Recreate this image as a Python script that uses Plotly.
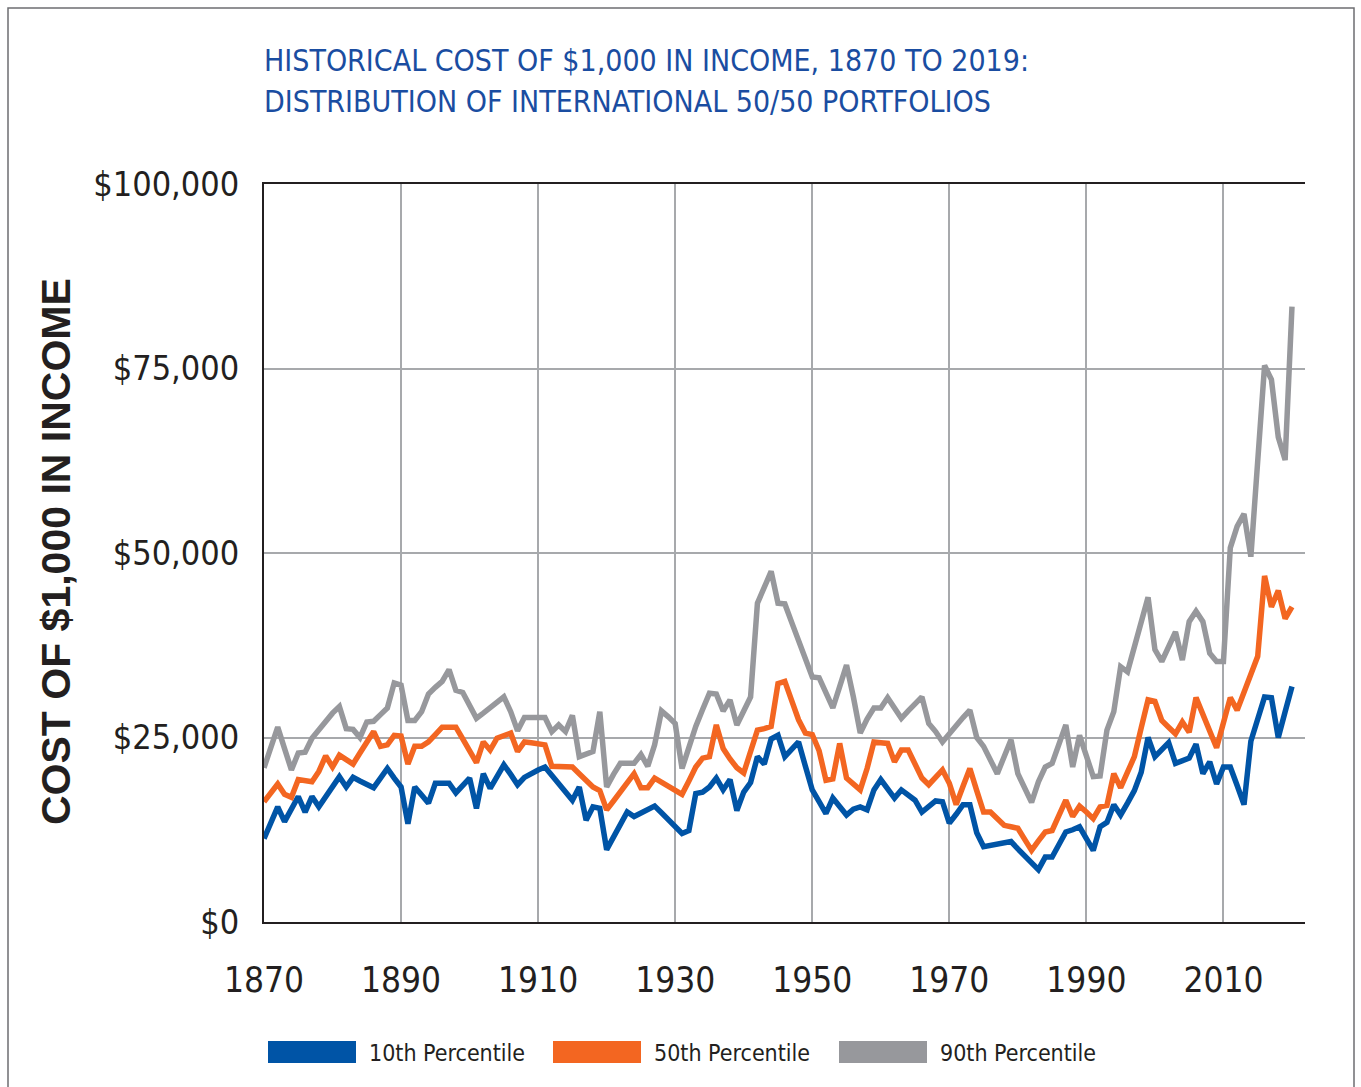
import plotly.graph_objects as go

# ---------------- data ----------------
years = list(range(1870, 2021))

p10 = [11.3, 13.5, 15.6, 13.6, 15.3, 17.0, 14.9, 17.0, 15.6, 17.0,
       18.4, 19.7, 18.3, 19.6, 19.1, 18.6, 18.2, 19.5, 20.8, 19.5,
       18.3, 13.3, 18.3, 17.2, 16.1, 18.8, 18.8, 18.8, 17.5, 18.5,
       19.5, 15.4, 20.1, 18.1, 19.7, 21.3, 20.0, 18.6, 19.6, 20.2,
       20.6, 21.0, 19.9, 18.8, 17.6, 16.5, 18.3, 13.8, 15.6, 15.4,
       9.8, 11.5, 13.2, 14.9, 14.3, 14.8, 15.2, 15.7, 14.8, 13.8,
       12.9, 12.0, 12.4, 17.4, 17.6, 18.3, 19.5, 17.9, 19.3, 15.1,
       17.6, 18.9, 22.4, 21.4, 24.8, 25.3, 22.4, 23.4, 24.4, 21.1,
       17.9, 16.3, 14.7, 16.8, 15.6, 14.5, 15.3, 15.6, 15.2, 17.9,
       19.3, 18.0, 16.8, 17.9, 17.2, 16.5, 14.9, 15.6, 16.4, 16.3,
       13.4, 14.6, 15.9, 15.9, 12.1, 10.2, 10.4, 10.6, 10.8, 10.9,
       9.9, 9.0, 8.0, 7.1, 8.8, 8.8, 10.5, 12.2, 12.5, 12.9,
       11.3, 9.7, 12.9, 13.5, 15.9, 14.5, 16.1, 17.8, 20.3, 25.0,
       22.4, 23.4, 24.3, 21.5, 21.9, 22.2, 24.1, 20.1, 21.7, 18.7,
       21.0, 21.0, 18.5, 15.9, 24.5, 27.5, 30.5, 30.4, 25.0, 28.5,
       31.9]

p50 = [16.3, 17.5, 18.7, 17.3, 16.9, 19.3, 19.1, 19.0, 20.4, 22.5,
       21.0, 22.6, 22.0, 21.4, 22.9, 24.4, 25.8, 23.8, 24.0, 25.3,
       25.2, 21.4, 23.8, 23.8, 24.4, 25.4, 26.4, 26.4, 26.4, 24.8,
       23.2, 21.6, 24.4, 23.3, 24.9, 25.2, 25.6, 23.1, 24.4, 24.3,
       24.2, 24.0, 21.1, 21.1, 21.0, 21.0, 20.1, 19.2, 18.3, 17.8,
       15.2, 16.4, 17.6, 18.6, 20.1, 18.2, 18.2, 19.5, 18.9, 18.4,
       17.8, 17.3, 19.1, 21.0, 22.2, 22.4, 26.7, 23.5, 22.1, 20.9,
       20.2, 22.9, 26.0, 26.2, 26.5, 32.3, 32.6, 30.0, 27.4, 25.6,
       25.4, 23.2, 19.2, 19.4, 24.2, 19.5, 18.7, 17.9, 20.8, 24.4,
       24.3, 24.2, 21.7, 23.3, 23.3, 21.4, 19.5, 18.6, 19.6, 20.6,
       18.8, 15.9, 18.4, 20.8, 17.8, 14.9, 14.9, 14.0, 13.1, 12.9,
       12.7, 11.2, 9.7, 11.0, 12.2, 12.4, 14.5, 16.5, 14.3, 15.7,
       14.9, 14.0, 15.6, 15.8, 20.1, 18.2, 20.3, 22.4, 26.3, 30.1,
       29.9, 27.3, 26.4, 25.5, 27.1, 25.7, 30.4, 28.1, 25.9, 23.6,
       27.0, 30.4, 28.7, 31.1, 33.5, 36.0, 46.9, 42.7, 44.9, 41.1,
       42.7]

p90 = [20.9, 23.6, 26.4, 23.5, 20.6, 22.9, 23.0, 24.9, 26.1, 27.4,
       28.3, 29.2, 26.2, 26.1, 25.0, 27.1, 27.2, 28.1, 29.0, 32.4,
       32.1, 27.3, 27.3, 28.5, 30.9, 31.8, 32.6, 34.2, 31.4, 31.1,
       29.4, 27.6, 28.3, 29.0, 29.8, 30.5, 28.5, 25.9, 27.7, 27.7,
       27.7, 27.7, 25.8, 26.7, 25.8, 28.0, 22.4, 22.7, 23.1, 28.5,
       18.3, 20.0, 21.5, 21.5, 21.5, 22.7, 21.1, 24.0, 28.6, 27.8,
       26.9, 20.8, 23.7, 26.5, 28.8, 31.0, 30.9, 28.6, 30.1, 26.7,
       28.6, 30.5, 43.2, 45.4, 47.5, 43.2, 43.1, 40.6, 38.2, 35.7,
       33.2, 33.1, 31.0, 29.0, 31.9, 34.8, 30.5, 25.6, 27.5, 29.0,
       29.0, 30.4, 29.0, 27.6, 28.6, 29.6, 30.5, 26.9, 25.8, 24.4,
       25.6, 26.7, 27.7, 28.7, 25.0, 23.8, 22.0, 20.1, 22.4, 24.7,
       20.1, 18.0, 16.2, 19.0, 21.0, 21.5, 24.0, 26.7, 21.0, 25.3,
       22.5, 19.7, 19.8, 26.0, 28.5, 34.6, 33.9, 37.3, 40.7, 44.0,
       36.9, 35.3, 37.3, 39.3, 35.5, 40.7, 42.1, 40.7, 36.4, 35.3,
       35.3, 50.7, 53.6, 55.3, 49.5, 62.5, 75.4, 73.5, 65.7, 62.6,
       83.4]

series_names = ["10th Percentile", "50th Percentile", "90th Percentile"]
series_values = [p10, p50, p90]  # in thousands of dollars
series_colors = ["#0054a6", "#f36621", "#97989c"]

y_tick_values = [0, 25000, 50000, 75000, 100000]
y_tick_labels = ["$0", "$25,000", "$50,000", "$75,000", "$100,000"]
x_tick_values = [1870, 1890, 1910, 1930, 1950, 1970, 1990, 2010]

title_lines = ["HISTORICAL COST OF $1,000 IN INCOME, 1870 TO 2019:",
               "DISTRIBUTION OF INTERNATIONAL 50/50 PORTFOLIOS"]
y_title = "COST OF $1,000 IN INCOME"

# ---------------- layout helpers ----------------
W, H = 1361, 1087
L, R, T, B = 264, 1305, 184, 922
NARROW = "Liberation Sans Narrow, DejaVu Sans Condensed, sans-serif"


def px_x(px):
    return (px - L) / (R - L)


def px_y(py):
    return (B - py) / (B - T)


fig = go.Figure()
for name, vals, col in zip(series_names, series_values, series_colors):
    fig.add_trace(go.Scatter(
        x=years, y=[v * 1000 for v in vals], mode="lines", name=name,
        line=dict(color=col, width=5.5), showlegend=False,
        hovertemplate="%{x}: $%{y:,.0f}<extra>" + name + "</extra>"))

shapes = [
    # outer frame
    dict(type="rect", xref="paper", yref="paper",
         x0=px_x(8), x1=px_x(1354), y0=px_y(1095), y1=px_y(8),
         line=dict(color="#6d6e71", width=1.5), layer="below"),
]
annotations = []

# title
for i, line in enumerate(title_lines):
    annotations.append(dict(
        text=line, xref="paper", yref="paper", x=px_x(262), y=px_y(61 + 40 * i),
        xanchor="left", yanchor="middle", showarrow=False,
        font=dict(family=NARROW, size=30, color="#1a4da1")))

# y-axis title
annotations.append(dict(
    text=y_title, xref="paper", yref="paper", x=px_x(56), y=px_y(552),
    xanchor="center", yanchor="middle", textangle=-90, showarrow=False,
    font=dict(family="Liberation Sans, Arial, sans-serif", size=41,
              color="#231f20", weight="bold")))

# custom legend
legend_x = [268, 553, 839]
for name, col, lx in zip(series_names, series_colors, legend_x):
    shapes.append(dict(type="rect", xref="paper", yref="paper",
                       x0=px_x(lx), x1=px_x(lx + 88), y0=px_y(1063), y1=px_y(1041),
                       fillcolor=col, line=dict(width=0)))
    annotations.append(dict(
        text=name, xref="paper", yref="paper", x=px_x(lx + 99), y=px_y(1053),
        xanchor="left", yanchor="middle", showarrow=False,
        font=dict(family=NARROW, size=23, color="#231f20")))

fig.update_layout(
    width=W, height=H,
    margin=dict(l=L, r=W - R, t=T, b=H - B, pad=0),
    paper_bgcolor="white", plot_bgcolor="white",
    shapes=shapes, annotations=annotations,
    showlegend=False,
    xaxis=dict(range=[1870, 2021.9], tickvals=x_tick_values,
               showgrid=True, gridcolor="#a7a9ac", gridwidth=1.5,
               showline=True, linecolor="#231f20", linewidth=2, mirror=True,
               ticks="", ticklabelstandoff=26, zeroline=False,
               tickfont=dict(family=NARROW, size=35, color="#231f20")),
    yaxis=dict(range=[0, 100000], tickvals=y_tick_values, ticktext=y_tick_labels,
               showgrid=True, gridcolor="#a7a9ac", gridwidth=1.5,
               showline=True, linecolor="#231f20", linewidth=2,
               ticks="", ticklabelstandoff=16, zeroline=False,
               tickfont=dict(family=NARROW, size=34, color="#231f20")),
)

fig.write_html("out.html", config={"displayModeBar": False},
               post_script="document.body.style.margin='0';")
